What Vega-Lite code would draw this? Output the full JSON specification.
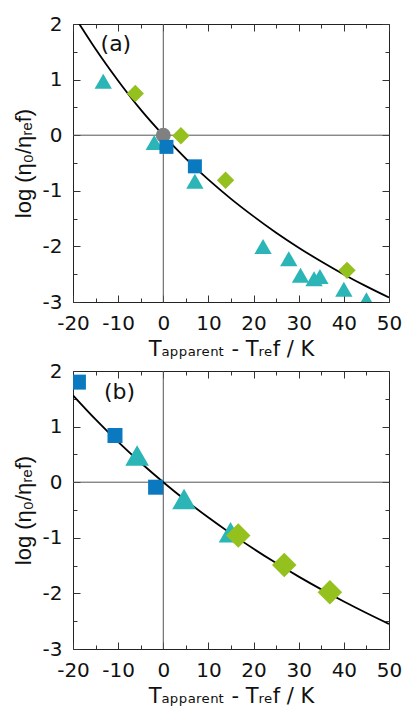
{
  "$schema": "https://vega.github.io/schema/vega-lite/v6.json",
  "background": "white",
  "padding": {"left": 11, "top": 13, "right": 0, "bottom": 0},
  "spacing": 0,
  "config": {
    "view": {"stroke": "#222", "strokeWidth": 1},
    "font": "DejaVu Sans",
    "axis": {"grid": false, "domain": false, "tickColor": "#333", "tickWidth": 1, "labelFont": "DejaVu Sans", "labelFontSize": 20, "labelColor": "#111", "titleFont": "DejaVu Sans", "titleFontSize": 21, "titleFontWeight": "normal", "titleColor": "#111", "labelFlush": false, "labelOverlap": false, "labelBound": false}
  },
  "datasets": {
    "a_pts": [
      {"series": "triangle", "t": -13.3, "v": 0.97},
      {"series": "triangle", "t": -2.0, "v": -0.13},
      {"series": "triangle", "t": 7.0, "v": -0.83},
      {"series": "triangle", "t": 22.1, "v": -2.0},
      {"series": "triangle", "t": 27.8, "v": -2.22},
      {"series": "triangle", "t": 30.4, "v": -2.52},
      {"series": "triangle", "t": 33.4, "v": -2.58},
      {"series": "triangle", "t": 34.7, "v": -2.54},
      {"series": "triangle", "t": 40.0, "v": -2.77},
      {"series": "triangle", "t": 45.0, "v": -2.96},
      {"series": "circle", "t": 0.0, "v": 0.0},
      {"series": "diamond", "t": -6.2, "v": 0.75},
      {"series": "diamond", "t": 3.9, "v": -0.01},
      {"series": "diamond", "t": 13.8, "v": -0.81},
      {"series": "diamond", "t": 40.7, "v": -2.43},
      {"series": "square", "t": 0.7, "v": -0.21},
      {"series": "square", "t": 7.0, "v": -0.56}
    ],
    "a_curve": [
      {"t": -18.6, "v": 2.0},
      {"t": -15, "v": 1.55},
      {"t": -10, "v": 0.98},
      {"t": -5, "v": 0.46},
      {"t": 0, "v": 0.0},
      {"t": 5, "v": -0.42},
      {"t": 10, "v": -0.8},
      {"t": 15, "v": -1.145},
      {"t": 20, "v": -1.46},
      {"t": 25, "v": -1.754},
      {"t": 30, "v": -2.023},
      {"t": 35, "v": -2.272},
      {"t": 40, "v": -2.504},
      {"t": 45, "v": -2.719},
      {"t": 50, "v": -2.919}
    ],
    "b_pts": [
      {"series": "triangle", "t": -5.8, "v": 0.48},
      {"series": "triangle", "t": 4.6, "v": -0.3},
      {"series": "triangle", "t": 14.9, "v": -0.9},
      {"series": "square", "t": -18.8, "v": 1.8},
      {"series": "square", "t": -10.7, "v": 0.84},
      {"series": "square", "t": -1.7, "v": -0.09},
      {"series": "diamond", "t": 16.6, "v": -0.96},
      {"series": "diamond", "t": 26.8, "v": -1.49},
      {"series": "diamond", "t": 36.9, "v": -1.98}
    ],
    "b_curve": [
      {"t": -20, "v": 1.561},
      {"t": -15, "v": 1.128},
      {"t": -10, "v": 0.725},
      {"t": -5, "v": 0.35},
      {"t": 0, "v": 0.0},
      {"t": 5, "v": -0.328},
      {"t": 10, "v": -0.636},
      {"t": 15, "v": -0.925},
      {"t": 20, "v": -1.198},
      {"t": 25, "v": -1.455},
      {"t": 30, "v": -1.698},
      {"t": 35, "v": -1.928},
      {"t": 40, "v": -2.146},
      {"t": 45, "v": -2.353},
      {"t": 50, "v": -2.55}
    ],
    "labels": [
      {"panel": "a", "label": "(a)", "t": -10.5, "v": 1.64},
      {"panel": "b", "label": "(b)", "t": -9.7, "v": 1.62}
    ]
  },
  "vconcat": [
    {
      "width": 316,
      "height": 278,
      "resolve": {"axis": {"x": "independent", "y": "independent"}},
      "layer": [
        {
          "data": {"values": [{}]},
          "mark": {"type": "rule", "color": "#555", "strokeWidth": 1},
          "encoding": {"x": {"datum": 0, "type": "quantitative", "scale": {"domain": [-20, 50], "nice": false, "zero": false}, "axis": null}}
        },
        {
          "data": {"values": [{}]},
          "mark": {"type": "rule", "color": "#555", "strokeWidth": 1},
          "encoding": {"y": {"datum": 0, "type": "quantitative", "scale": {"domain": [-3, 2], "nice": false, "zero": false}, "axis": null}}
        },
        {
          "data": {"name": "a_curve"},
          "mark": {"type": "line", "color": "black", "strokeWidth": 1.8, "clip": true, "interpolate": "monotone"},
          "encoding": {
            "x": {"field": "t", "type": "quantitative", "scale": {"domain": [-20, 50], "nice": false, "zero": false},
              "axis": {"orient": "top", "values": [-20, -15, -10, -5, 0, 5, 10, 15, 20, 25, 30, 35, 40, 45, 50], "labels": false, "title": null, "tickSize": {"condition": {"test": "datum.value % 10 !== 0", "value": -4}, "value": -7}}},
            "y": {"field": "v", "type": "quantitative", "scale": {"domain": [-3, 2], "nice": false, "zero": false},
              "axis": {"orient": "right", "values": [-3, -2.5, -2, -1.5, -1, -0.5, 0, 0.5, 1, 1.5, 2], "labels": false, "title": null, "tickSize": {"condition": {"test": "datum.value % 1 !== 0", "value": -4}, "value": -7}}}
          }
        },
        {
          "data": {"name": "a_pts"},
          "transform": [{"filter": "datum.series === 'triangle'"}],
          "mark": {"type": "point", "shape": "triangle-up", "filled": true, "opacity": 1, "clip": true, "strokeWidth": 0, "size": 300, "color": "#2BB5B6"},
          "encoding": {
            "x": {"field": "t", "type": "quantitative", "scale": {"domain": [-20, 50], "nice": false, "zero": false},
              "axis": {"orient": "bottom", "values": [-20, -15, -10, -5, 0, 5, 10, 15, 20, 25, 30, 35, 40, 45, 50], "labelExpr": "datum.value % 10 === 0 ? '' + datum.value : ''", "tickSize": {"condition": {"test": "datum.value % 10 !== 0", "value": -4}, "value": -7}, "labelPadding": 18, "title": "Tₐₚₚₐᵣₑₙₜ - Tᵣₑf  / K", "titlePadding": 2}},
            "y": {"field": "v", "type": "quantitative", "scale": {"domain": [-3, 2], "nice": false, "zero": false},
              "axis": {"orient": "left", "values": [-3, -2.5, -2, -1.5, -1, -0.5, 0, 0.5, 1, 1.5, 2], "labelExpr": "datum.value % 1 === 0 ? '' + datum.value : ''", "tickSize": {"condition": {"test": "datum.value % 1 !== 0", "value": -4}, "value": -7}, "labelPadding": 18, "title": "log (η₀/ηᵣₑf)", "titleFont": "Liberation Sans", "titleFontSize": 22, "titlePadding": 7}}
          }
        },
        {
          "data": {"name": "a_pts"},
          "transform": [{"filter": "datum.series === 'circle'"}],
          "mark": {"type": "point", "shape": "circle", "filled": true, "opacity": 1, "clip": true, "strokeWidth": 0, "size": 225, "color": "#808080"},
          "encoding": {
            "x": {"field": "t", "type": "quantitative", "axis": null},
            "y": {"field": "v", "type": "quantitative", "axis": null}
          }
        },
        {
          "data": {"name": "a_pts"},
          "transform": [{"filter": "datum.series === 'diamond'"}],
          "mark": {"type": "point", "shape": "diamond", "filled": true, "opacity": 1, "clip": true, "strokeWidth": 0, "size": 300, "color": "#95C11F"},
          "encoding": {
            "x": {"field": "t", "type": "quantitative", "axis": null},
            "y": {"field": "v", "type": "quantitative", "axis": null}
          }
        },
        {
          "data": {"name": "a_pts"},
          "transform": [{"filter": "datum.series === 'square'"}],
          "mark": {"type": "point", "shape": "square", "filled": true, "opacity": 1, "clip": true, "strokeWidth": 0, "size": 196, "color": "#0A79C0"},
          "encoding": {
            "x": {"field": "t", "type": "quantitative", "axis": null},
            "y": {"field": "v", "type": "quantitative", "axis": null}
          }
        },
        {
          "data": {"name": "labels"},
          "transform": [{"filter": "datum.panel === 'a'"}],
          "mark": {"type": "text", "fontSize": 22, "font": "DejaVu Sans", "color": "#111", "align": "center", "baseline": "middle"},
          "encoding": {
            "x": {"field": "t", "type": "quantitative", "axis": null},
            "y": {"field": "v", "type": "quantitative", "axis": null},
            "text": {"field": "label"}
          }
        }
      ]
    },
    {
      "width": 316,
      "height": 278,
      "resolve": {"axis": {"x": "independent", "y": "independent"}},
      "layer": [
        {
          "data": {"values": [{}]},
          "mark": {"type": "rule", "color": "#555", "strokeWidth": 1},
          "encoding": {"x": {"datum": 0, "type": "quantitative", "scale": {"domain": [-20, 50], "nice": false, "zero": false}, "axis": null}}
        },
        {
          "data": {"values": [{}]},
          "mark": {"type": "rule", "color": "#555", "strokeWidth": 1},
          "encoding": {"y": {"datum": 0, "type": "quantitative", "scale": {"domain": [-3, 2], "nice": false, "zero": false}, "axis": null}}
        },
        {
          "data": {"name": "b_curve"},
          "mark": {"type": "line", "color": "black", "strokeWidth": 1.8, "clip": true, "interpolate": "monotone"},
          "encoding": {
            "x": {"field": "t", "type": "quantitative", "scale": {"domain": [-20, 50], "nice": false, "zero": false},
              "axis": {"orient": "top", "values": [-20, -15, -10, -5, 0, 5, 10, 15, 20, 25, 30, 35, 40, 45, 50], "labels": false, "title": null, "tickSize": {"condition": {"test": "datum.value % 10 !== 0", "value": -4}, "value": -7}}},
            "y": {"field": "v", "type": "quantitative", "scale": {"domain": [-3, 2], "nice": false, "zero": false},
              "axis": {"orient": "right", "values": [-3, -2.5, -2, -1.5, -1, -0.5, 0, 0.5, 1, 1.5, 2], "labels": false, "title": null, "tickSize": {"condition": {"test": "datum.value % 1 !== 0", "value": -4}, "value": -7}}}
          }
        },
        {
          "data": {"name": "b_pts"},
          "transform": [{"filter": "datum.series === 'triangle'"}],
          "mark": {"type": "point", "shape": "triangle-up", "filled": true, "opacity": 1, "clip": true, "strokeWidth": 0, "size": 560, "color": "#2BB5B6"},
          "encoding": {
            "x": {"field": "t", "type": "quantitative", "scale": {"domain": [-20, 50], "nice": false, "zero": false},
              "axis": {"orient": "bottom", "values": [-20, -15, -10, -5, 0, 5, 10, 15, 20, 25, 30, 35, 40, 45, 50], "labelExpr": "datum.value % 10 === 0 ? '' + datum.value : ''", "tickSize": {"condition": {"test": "datum.value % 10 !== 0", "value": -4}, "value": -7}, "labelPadding": 18, "title": "Tₐₚₚₐᵣₑₙₜ - Tᵣₑf  / K", "titlePadding": 2}},
            "y": {"field": "v", "type": "quantitative", "scale": {"domain": [-3, 2], "nice": false, "zero": false},
              "axis": {"orient": "left", "values": [-3, -2.5, -2, -1.5, -1, -0.5, 0, 0.5, 1, 1.5, 2], "labelExpr": "datum.value % 1 === 0 ? '' + datum.value : ''", "tickSize": {"condition": {"test": "datum.value % 1 !== 0", "value": -4}, "value": -7}, "labelPadding": 18, "title": "log (η₀/ηᵣₑf)", "titleFont": "Liberation Sans", "titleFontSize": 22, "titlePadding": 7}}
          }
        },
        {
          "data": {"name": "b_pts"},
          "transform": [{"filter": "datum.series === 'square'"}],
          "mark": {"type": "point", "shape": "square", "filled": true, "opacity": 1, "clip": true, "strokeWidth": 0, "size": 225, "color": "#0A79C0"},
          "encoding": {
            "x": {"field": "t", "type": "quantitative", "axis": null},
            "y": {"field": "v", "type": "quantitative", "axis": null}
          }
        },
        {
          "data": {"name": "b_pts"},
          "transform": [{"filter": "datum.series === 'diamond'"}],
          "mark": {"type": "point", "shape": "diamond", "filled": true, "opacity": 1, "clip": true, "strokeWidth": 0, "size": 600, "color": "#95C11F"},
          "encoding": {
            "x": {"field": "t", "type": "quantitative", "axis": null},
            "y": {"field": "v", "type": "quantitative", "axis": null}
          }
        },
        {
          "data": {"name": "labels"},
          "transform": [{"filter": "datum.panel === 'b'"}],
          "mark": {"type": "text", "fontSize": 22, "font": "DejaVu Sans", "color": "#111", "align": "center", "baseline": "middle"},
          "encoding": {
            "x": {"field": "t", "type": "quantitative", "axis": null},
            "y": {"field": "v", "type": "quantitative", "axis": null},
            "text": {"field": "label"}
          }
        }
      ]
    }
  ]
}
